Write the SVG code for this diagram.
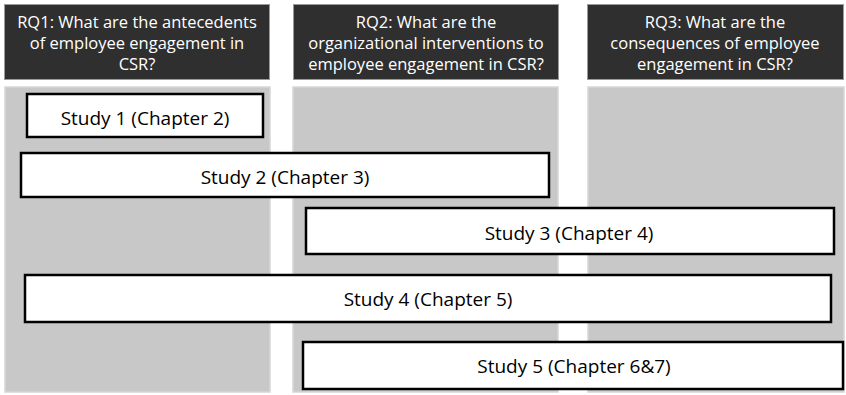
<svg xmlns="http://www.w3.org/2000/svg" width="846" height="395" viewBox="0 0 846 395">
<style>
.hdr{fill:#2f2f2f;stroke:#9a9a9a;stroke-width:1}
.col{fill:#c8c8c8;stroke:#d6d6d6;stroke-width:1.5}
.study{fill:#fff;stroke:#000;stroke-width:2.5}
.ht{font-family:"Open Sans","Liberation Sans",sans-serif;font-size:16.5px;fill:#fff;text-anchor:middle}
.st{font-family:"Open Sans","Liberation Sans",sans-serif;font-size:19px;fill:#000;text-anchor:middle}
</style>
<rect width="846" height="395" fill="#fff"/>
<g id="col1"><rect class="col" x="5" y="87" width="265" height="305"/></g>
<g id="col2"><rect class="col" x="293" y="87" width="265" height="305"/></g>
<g id="col3"><rect class="col" x="588" y="87" width="256" height="305"/></g>
<g id="rq1"><rect class="hdr" x="4.5" y="4.5" width="265" height="75"/>
<text class="ht" x="137" y="28">RQ1: What are the antecedents</text>
<text class="ht" x="137" y="49">of employee engagement in</text>
<text class="ht" x="137" y="70">CSR?</text></g>
<g id="rq2"><rect class="hdr" x="293.5" y="4.5" width="265" height="75"/>
<text class="ht" x="426" y="28">RQ2: What are the</text>
<text class="ht" x="426" y="49">organizational interventions to</text>
<text class="ht" x="426" y="70">employee engagement in CSR?</text></g>
<g id="rq3"><rect class="hdr" x="587.5" y="4.5" width="256" height="75"/>
<text class="ht" x="715" y="28">RQ3: What are the</text>
<text class="ht" x="715" y="49">consequences of employee</text>
<text class="ht" x="715" y="70">engagement in CSR?</text></g>
<g id="study1"><rect class="study" x="27" y="94" width="236" height="43"/>
<text class="st" x="145" y="125">Study 1 (Chapter 2)</text></g>
<g id="study2"><rect class="study" x="21" y="153" width="528" height="44"/>
<text class="st" x="285" y="184">Study 2 (Chapter 3)</text></g>
<g id="study3"><rect class="study" x="306" y="208" width="528" height="46"/>
<text class="st" x="569" y="240">Study 3 (Chapter 4)</text></g>
<g id="study4"><rect class="study" x="25" y="275" width="806" height="47"/>
<text class="st" x="428" y="306">Study 4 (Chapter 5)</text></g>
<g id="study5"><rect class="study" x="303" y="342" width="540" height="47"/>
<text class="st" x="574" y="373">Study 5 (Chapter 6&amp;7)</text></g>
<g id="connectors"/>
</svg>
